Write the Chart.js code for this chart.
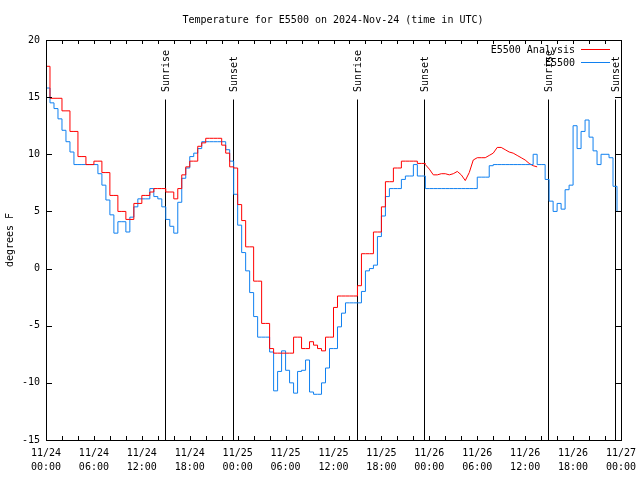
<!DOCTYPE html>
<html>
<head>
<meta charset="utf-8">
<script src="https://cdn.jsdelivr.net/npm/chart.js@4"></script>
<style>
html, body { margin: 0; padding: 0; background: #fff; }
</style>
</head>
<body>
<canvas id="tempLog" width="640" height="480"></canvas>
<script>
var stepHours = 0.5
var dayLabels = ['11/24', '11/25', '11/26', '11/27']

// observations, every half hour from 11/24 00:00
var obsValues = [
    15.8, 14.5, 14.0, 13.1, 12.1, 11.1, 10.2, 9.1, 9.1, 9.1, 9.1, 9.1, 9.1, 8.3, 7.3, 6.0,
    4.7, 3.1, 4.1, 4.1, 3.2, 4.5, 5.4, 6.1, 6.1, 6.1, 7.0, 6.3, 6.1, 5.4, 4.3, 3.7,
    3.1, 5.8, 7.9, 8.8, 9.8, 10.1, 10.5, 11.1, 11.1, 11.1, 11.1, 11.1, 11.1, 10.4, 9.4, 6.5,
    3.8, 1.4, -0.2, -2.1, -4.2, -6.0, -6.0, -6.0, -7.3, -10.7, -9.0, -7.2, -8.9, -10.0, -10.9, -9.0,
    -8.9, -8.0, -10.8, -11.0, -11.0, -10.0, -8.7, -7.0, -7.0, -5.1, -3.9, -3.0, -3.0, -3.0, -3.0, -2.0,
    -0.2, 0.0, 0.3, 2.8, 4.6, 6.3, 7.0, 7.0, 7.0, 7.8, 8.1, 8.1, 9.1, 8.1, 8.1, 7.0,
    7.0, 7.0, 7.0, 7.0, 7.0, 7.0, 7.0, 7.0, 7.0, 7.0, 7.0, 7.0, 8.0, 8.0, 8.0, 9.0,
    9.1, 9.1, 9.1, 9.1, 9.1, 9.1, 9.1, 9.1, 9.1, 9.1, 10.0, 9.1, 9.1, 7.8, 5.9, 5.0,
    5.7, 5.2, 6.9, 7.3, 12.5, 10.5, 12.0, 13.0, 11.5, 10.3, 9.1, 10.0, 10.0, 9.7, 7.2, 5.0,
    5.0
]

// analysis, stepped part, every half hour from 11/24 00:00
var analysisSteps = [
    17.7, 14.9, 14.9, 14.9, 13.8, 13.8, 12.0, 12.0, 9.8, 9.8, 9.1, 9.1, 9.4, 9.4, 8.4, 8.4,
    6.4, 6.4, 5.0, 5.0, 4.3, 4.3, 5.7, 5.7, 6.4, 6.4, 6.7, 7.0, 7.0, 7.0, 6.7, 6.7,
    6.1, 7.0, 8.2, 8.9, 9.4, 9.4, 10.7, 11.0, 11.4, 11.4, 11.4, 11.4, 10.8, 10.1, 8.9, 8.8,
    5.6, 4.2, 1.9, 1.9, -1.1, -1.1, -4.8, -4.8, -7.0, -7.4, -7.4, -7.4, -7.4, -7.4, -6.0, -6.0,
    -7.0, -7.0, -6.4, -6.7, -7.0, -7.2, -6.0, -6.0, -3.4, -2.4, -2.4, -2.4, -2.4, -2.4, -1.5, 1.3,
    1.3, 1.3, 3.2, 3.2, 5.4, 7.6, 7.6, 8.8, 8.8, 9.4, 9.4, 9.4, 9.4, 9.2, 9.2, 9.1
]

// analysis, interpolated part, every half hour from hour 47.5
var analysisLineStart = 47.5
var analysisLine = [
    9.1, 8.7, 8.2, 8.2, 8.3, 8.3, 8.2, 8.3, 8.5, 8.2, 7.7, 8.4, 9.5, 9.7, 9.7, 9.7,
    9.9, 10.1, 10.6, 10.6, 10.4, 10.2, 10.1, 9.9, 9.7, 9.5, 9.2, 9.0, 8.9
]

var sunHours = [14.9, 23.4, 38.9, 47.3, 62.9, 71.3]
var sunLabels = ['Sunrise', 'Sunset', 'Sunrise', 'Sunset', 'Sunrise', 'Sunset']

var FONT = "'DejaVu Sans Mono', monospace"
var RED = '#ff0000'
var BLUE = '#1080f0'

function toPoints(values, start) {
    return values.map(function (v, i) {
        return { x: start + i * stepHours, y: v }
    })
}

var framePlugin = {
    id: 'frame',
    beforeDatasetsDraw: function (chart) {
        var ctx = chart.ctx
        var area = chart.chartArea
        var xs = chart.scales.x
        ctx.save()
        ctx.strokeStyle = '#000'
        ctx.lineWidth = 1
        ctx.fillStyle = '#000'
        ctx.font = '10px ' + FONT
        for (var i = 0; i < sunHours.length; i++) {
            var px = Math.round(xs.getPixelForValue(sunHours[i])) + 0.5
            ctx.beginPath()
            ctx.moveTo(px, 99.5)
            ctx.lineTo(px, area.bottom)
            ctx.stroke()
            ctx.save()
            ctx.translate(px + 1, 92)
            ctx.rotate(-Math.PI / 2)
            ctx.textAlign = 'left'
            ctx.textBaseline = 'middle'
            ctx.fillText(sunLabels[i], 0, 0)
            ctx.restore()
        }
        ctx.restore()
    },
    afterDraw: function (chart) {
        var ctx = chart.ctx
        var area = chart.chartArea
        var xs = chart.scales.x
        var ys = chart.scales.y
        ctx.save()
        ctx.strokeStyle = '#000'
        ctx.fillStyle = '#000'
        ctx.lineWidth = 1
        ctx.strokeRect(area.left + 0.5, area.top + 0.5, area.right - area.left, area.bottom - area.top)

        ctx.beginPath()
        xs.ticks.forEach(function (t) {
            var px = Math.round(xs.getPixelForValue(t.value)) + 0.5
            ctx.moveTo(px, area.bottom)
            ctx.lineTo(px, area.bottom - 4)
            ctx.moveTo(px, area.top)
            ctx.lineTo(px, area.top + 4)
        })
        ys.ticks.forEach(function (t) {
            var py = Math.round(ys.getPixelForValue(t.value)) + 0.5
            ctx.moveTo(area.left, py)
            ctx.lineTo(area.left + 6, py)
            ctx.moveTo(area.right, py)
            ctx.lineTo(area.right - 6, py)
        })
        ctx.stroke()

        ctx.font = '10px ' + FONT
        ctx.textAlign = 'center'
        ctx.textBaseline = 'middle'
        ctx.fillText('Temperature for E5500 on 2024-Nov-24 (time in UTC)', 333, 20)

        ctx.save()
        ctx.translate(10, 240)
        ctx.rotate(-Math.PI / 2)
        ctx.fillText('degrees F', 0, 0)
        ctx.restore()

        // legend, text right aligned before the sample line
        var rowY = 50
        chart.data.datasets.forEach(function (ds) {
            if (!ds.label) return
            ctx.textAlign = 'right'
            ctx.fillStyle = '#000'
            ctx.fillText(ds.label, 575, rowY)
            ctx.strokeStyle = ds.borderColor
            ctx.beginPath()
            ctx.moveTo(581, rowY - 0.5)
            ctx.lineTo(610, rowY - 0.5)
            ctx.stroke()
            rowY += 13
        })
        ctx.restore()
    }
}

var ctx = document.getElementById('tempLog')
var tempChart = new Chart(ctx, {
    type: 'line',
    data: {
        datasets: [{
            label: 'E5500 Analysis',
            data: toPoints(analysisSteps, 0),
            borderColor: RED,
            stepped: true
        }, {
            label: 'E5500',
            data: toPoints(obsValues, 0),
            borderColor: BLUE,
            stepped: true
        }, {
            label: '',
            data: toPoints(analysisLine, analysisLineStart),
            borderColor: RED
        }]
    },
    options: {
        responsive: false,
        animation: false,
        devicePixelRatio: 1,
        layout: { padding: { top: 40, right: 19, left: 0, bottom: 0 } },
        elements: {
            point: { radius: 0 },
            line: { borderWidth: 1, tension: 0, fill: false }
        },
        plugins: {
            legend: { display: false },
            tooltip: { enabled: false },
            title: { display: false }
        },
        scales: {
            x: {
                type: 'linear',
                min: 0,
                max: 72,
                afterFit: function (scale) {
                    scale.height = 40
                    scale.paddingLeft = 0
                    scale.paddingRight = 0
                },
                grid: { display: false, drawTicks: false },
                border: { display: false },
                ticks: {
                    stepSize: 2,
                    autoSkip: false,
                    maxRotation: 0,
                    padding: 6,
                    color: '#000',
                    font: { family: FONT, size: 10, lineHeight: 1.4 },
                    callback: function (v) {
                        if (v % 6 !== 0) return ''
                        var hh = v % 24
                        return [dayLabels[Math.floor(v / 24)], (hh < 10 ? '0' : '') + hh + ':00']
                    }
                }
            },
            y: {
                min: -15,
                max: 20,
                afterFit: function (scale) {
                    scale.width = 46
                    scale.paddingTop = 0
                    scale.paddingBottom = 0
                },
                grid: { display: false, drawTicks: false },
                border: { display: false },
                ticks: {
                    stepSize: 5,
                    padding: 6,
                    color: '#000',
                    font: { family: FONT, size: 10 }
                }
            }
        }
    },
    plugins: [framePlugin]
})
</script>
</body>
</html>
